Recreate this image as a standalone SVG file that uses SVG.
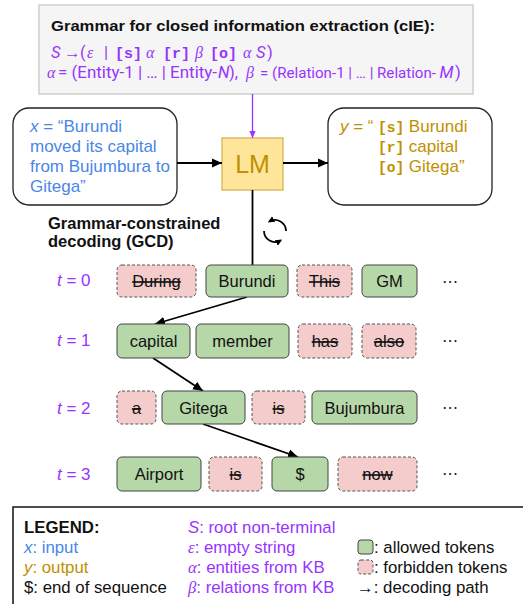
<svg xmlns="http://www.w3.org/2000/svg" width="523" height="604" viewBox="0 0 523 604">
<defs>
<marker id="ah" viewBox="0 0 10 10" refX="10" refY="5" markerWidth="10" markerHeight="10" markerUnits="userSpaceOnUse" orient="auto"><path d="M0,0.5 L10,5 L0,9.5 Z" fill="#000"/></marker>
<marker id="ahp" viewBox="0 0 10 10" refX="10" refY="5" markerWidth="7" markerHeight="7" markerUnits="userSpaceOnUse" orient="auto"><path d="M0,0.5 L10,5 L0,9.5 Z" fill="#9933ff"/></marker>
<marker id="ahs" viewBox="0 0 10 10" refX="7" refY="5" markerWidth="7" markerHeight="7" markerUnits="userSpaceOnUse" orient="auto"><path d="M0,0.5 L10,5 L0,9.5 Z" fill="#000"/></marker>
<style>
text{font-family:"Liberation Sans",Arial,sans-serif}
.tok{font-size:16.5px;text-anchor:middle;fill:#111}
.ok{fill:#b6d7a8;stroke:#444;stroke-width:1}
.no{fill:#f4cccc;stroke:#555;stroke-width:1;stroke-dasharray:3 2}
.strike{text-decoration:line-through}
.pur{fill:#9933ff}
.blu{fill:#4a86e8}
.gold{fill:#bf9000}
.gr{font-family:"Liberation Serif",serif;font-style:italic}
.mono{font-family:"Liberation Mono",monospace;font-weight:bold}
.rb{font-family:Roboto,sans-serif;font-size:16.5px}
.lbl{font-size:17px}
.leg{font-size:16.8px}
.dots{font-size:16px;fill:#222;font-family:"DejaVu Sans",sans-serif}
.ed{fill:none;stroke:#000;stroke-width:1.8}
</style>
</defs>

<g id="grammar">
<rect x="39" y="5" width="434" height="89" fill="#f5f5f5" stroke="#c4c4c4" stroke-width="1.2"/>
<text x="51" y="31" font-size="15.5" font-weight="bold" fill="#111" textLength="384" lengthAdjust="spacingAndGlyphs">Grammar for closed information extraction (cIE):</text>
<g class="pur">
<text x="51" y="58" class="rb pur" font-style="italic">S</text>
<text x="64" y="58" class="rb pur">→</text>
<text x="80" y="58" class="rb pur">(</text>
<text x="87" y="58" class="pur gr" font-size="16">ε</text>
<text x="104" y="58" class="rb pur">|</text>
<text x="115" y="58" class="mono pur" font-size="15">[s]</text>
<text x="146" y="58" class="gr pur" font-size="16">α</text>
<text x="163" y="58" class="mono pur" font-size="15">[r]</text>
<text x="195" y="58" class="gr pur" font-size="16">β</text>
<text x="210" y="58" class="mono pur" font-size="15">[o]</text>
<text x="243" y="58" class="gr pur" font-size="16">α</text>
<text x="256" y="58" class="rb pur" font-style="italic">S</text>
<text x="267" y="58" class="rb pur">)</text>
<text x="47" y="78" class="gr pur" font-size="16">α</text>
<text x="58" y="78" class="rb pur" textLength="159" lengthAdjust="spacingAndGlyphs">= (Entity-1 | … | Entity-</text>
<text x="218" y="78" class="rb pur" font-style="italic">N</text>
<text x="229" y="78" class="rb pur">),</text>
<text x="246" y="78" class="gr pur" font-size="16">β</text>
<text x="260" y="78" class="rb pur" font-size="15.3" style="font-size:15.3px" textLength="176" lengthAdjust="spacingAndGlyphs">= (Relation-1 | … | Relation-</text>
<text x="439.5" y="78" class="rb pur" font-style="italic">M</text>
<text x="455" y="78" class="rb pur">)</text>
</g>
</g>

<g id="input">
<rect x="13" y="108" width="164" height="97" rx="16" fill="#fff" stroke="#222" stroke-width="1.3"/>
<text class="blu" font-size="17"><tspan x="30" y="132"><tspan font-style="italic">x</tspan> = “Burundi</tspan><tspan x="30" y="152">moved its capital</tspan><tspan x="30" y="172">from Bujumbura to</tspan><tspan x="30" y="192">Gitega”</tspan></text>
</g>

<g id="lm">
<rect x="222" y="138" width="61" height="52" fill="#ffe599" stroke="#d6b656" stroke-width="1.3"/>
<text x="252.5" y="173" font-size="25" text-anchor="middle" class="gold">LM</text>
</g>

<g id="output">
<rect x="328" y="108" width="164" height="97" rx="16" fill="#fff" stroke="#222" stroke-width="1.3"/>
<text class="gold" font-size="17"><tspan x="340" y="132"><tspan font-style="italic">y</tspan> = “</tspan><tspan x="378" y="132" class="mono" font-size="14.5">[s]</tspan><tspan> Burundi</tspan><tspan x="378" y="152" class="mono" font-size="14.5">[r]</tspan><tspan> capital</tspan><tspan x="378" y="172" class="mono" font-size="14.5">[o]</tspan><tspan> Gitega”</tspan></text>
</g>

<g id="gcd-label">
<text font-size="16.5" font-weight="bold" fill="#111"><tspan x="48" y="229">Grammar-constrained</tspan><tspan x="48" y="247">decoding (GCD)</tspan></text>
</g>

<g id="cycle">
<path d="M286,231 A11,11 0 0 0 269.5,221.5" fill="none" stroke="#000" stroke-width="1.8" marker-end="url(#ahs)"/>
<path d="M264,231 A11,11 0 0 0 280.5,240.5" fill="none" stroke="#000" stroke-width="1.8" marker-end="url(#ahs)"/>
</g>

<g id="time-labels">
<text x="57" y="286" class="lbl pur"><tspan font-style="italic">t</tspan> = 0</text>
<text x="57" y="346" class="lbl pur"><tspan font-style="italic">t</tspan> = 1</text>
<text x="57" y="414" class="lbl pur"><tspan font-style="italic">t</tspan> = 2</text>
<text x="57" y="480" class="lbl pur"><tspan font-style="italic">t</tspan> = 3</text>
</g>

<g id="connectors">
<line x1="177" y1="163" x2="222" y2="163" class="ed" marker-end="url(#ah)"/>
<line x1="283" y1="163" x2="328" y2="163" class="ed" marker-end="url(#ah)"/>
<line x1="252.5" y1="94" x2="252.5" y2="138" stroke="#9933ff" stroke-width="1.3" marker-end="url(#ahp)"/>
<line x1="252.5" y1="190" x2="252.5" y2="265" class="ed"/>
<line x1="247" y1="297" x2="155" y2="324" class="ed" marker-end="url(#ah)"/>
<line x1="153" y1="358" x2="203" y2="391" class="ed" marker-end="url(#ah)"/>
<line x1="203" y1="424" x2="298" y2="457" class="ed" marker-end="url(#ah)"/>
</g>

<g id="row0">
<g id="t0-during"><rect x="117" y="265" width="79" height="32" rx="5" class="no"/><text x="156.5" y="287" class="tok strike">During</text></g>
<g id="t0-burundi"><rect x="206" y="265" width="82" height="32" rx="5" class="ok"/><text x="247" y="287" class="tok">Burundi</text></g>
<g id="t0-this"><rect x="297" y="265" width="55" height="32" rx="5" class="no"/><text x="324.5" y="287" class="tok strike">This</text></g>
<g id="t0-gm"><rect x="362" y="265" width="55" height="32" rx="5" class="ok"/><text x="389.5" y="287" class="tok">GM</text></g>
<text x="450" y="287" class="dots" text-anchor="middle">⋯</text>
</g>

<g id="row1">
<g id="t1-capital"><rect x="117" y="324" width="73" height="34" rx="5" class="ok"/><text x="153.5" y="347" class="tok">capital</text></g>
<g id="t1-member"><rect x="196" y="324" width="93" height="34" rx="5" class="ok"/><text x="242.5" y="347" class="tok">member</text></g>
<g id="t1-has"><rect x="298" y="324" width="54" height="34" rx="5" class="no"/><text x="325" y="347" class="tok strike">has</text></g>
<g id="t1-also"><rect x="362" y="324" width="54" height="34" rx="5" class="no"/><text x="389" y="347" class="tok strike">also</text></g>
<text x="450" y="346" class="dots" text-anchor="middle">⋯</text>
</g>

<g id="row2">
<g id="t2-a"><rect x="117" y="391" width="39" height="33" rx="5" class="no"/><text x="136.5" y="414" class="tok strike">a</text></g>
<g id="t2-gitega"><rect x="162" y="391" width="83" height="33" rx="5" class="ok"/><text x="203.5" y="414" class="tok">Gitega</text></g>
<g id="t2-is"><rect x="252" y="391" width="53" height="33" rx="5" class="no"/><text x="278.5" y="414" class="tok strike">is</text></g>
<g id="t2-bujumbura"><rect x="312" y="391" width="105" height="33" rx="5" class="ok"/><text x="364.5" y="414" class="tok">Bujumbura</text></g>
<text x="450" y="413" class="dots" text-anchor="middle">⋯</text>
</g>

<g id="row3">
<g id="t3-airport"><rect x="117" y="457" width="84" height="34" rx="5" class="ok"/><text x="159" y="480" class="tok">Airport</text></g>
<g id="t3-is"><rect x="209" y="457" width="53" height="34" rx="5" class="no"/><text x="235.5" y="480" class="tok strike">is</text></g>
<g id="t3-eos"><rect x="272" y="457" width="56" height="34" rx="5" class="ok"/><text x="300" y="480" class="tok">$</text></g>
<g id="t3-now"><rect x="338" y="457" width="79" height="34" rx="5" class="no"/><text x="377.5" y="480" class="tok strike">now</text></g>
<text x="450" y="479" class="dots" text-anchor="middle">⋯</text>
</g>

<g id="legend">
<rect x="13" y="507" width="520" height="110" fill="#fff" stroke="#111" stroke-width="1.5"/>
<text x="24" y="533" class="leg" font-weight="bold" fill="#111">LEGEND:</text>
<text x="24" y="553" class="leg blu"><tspan font-style="italic">x</tspan>:  input</text>
<text x="24" y="573" class="leg gold"><tspan font-style="italic">y</tspan>:  output</text>
<text x="24" y="593" class="leg" fill="#111">$: end of sequence</text>
<text x="188" y="533" class="leg pur"><tspan font-style="italic">S</tspan>: root non-terminal</text>
<text x="188" y="553" class="leg pur"><tspan class="gr">ε</tspan>: empty string</text>
<text x="188" y="573" class="leg pur"><tspan class="gr">α</tspan>: entities from KB</text>
<text x="188" y="593" class="leg pur"><tspan class="gr">β</tspan>: relations from KB</text>
<rect x="358" y="540" width="15" height="14" rx="3" class="ok"/>
<text x="374" y="553" class="leg" fill="#111">: allowed tokens</text>
<rect x="358" y="560" width="15" height="14" rx="3" class="no"/>
<text x="374" y="573" class="leg" fill="#111">: forbidden tokens</text>
<text x="357" y="593" class="leg" fill="#111">→: decoding path</text>
</g>
</svg>
